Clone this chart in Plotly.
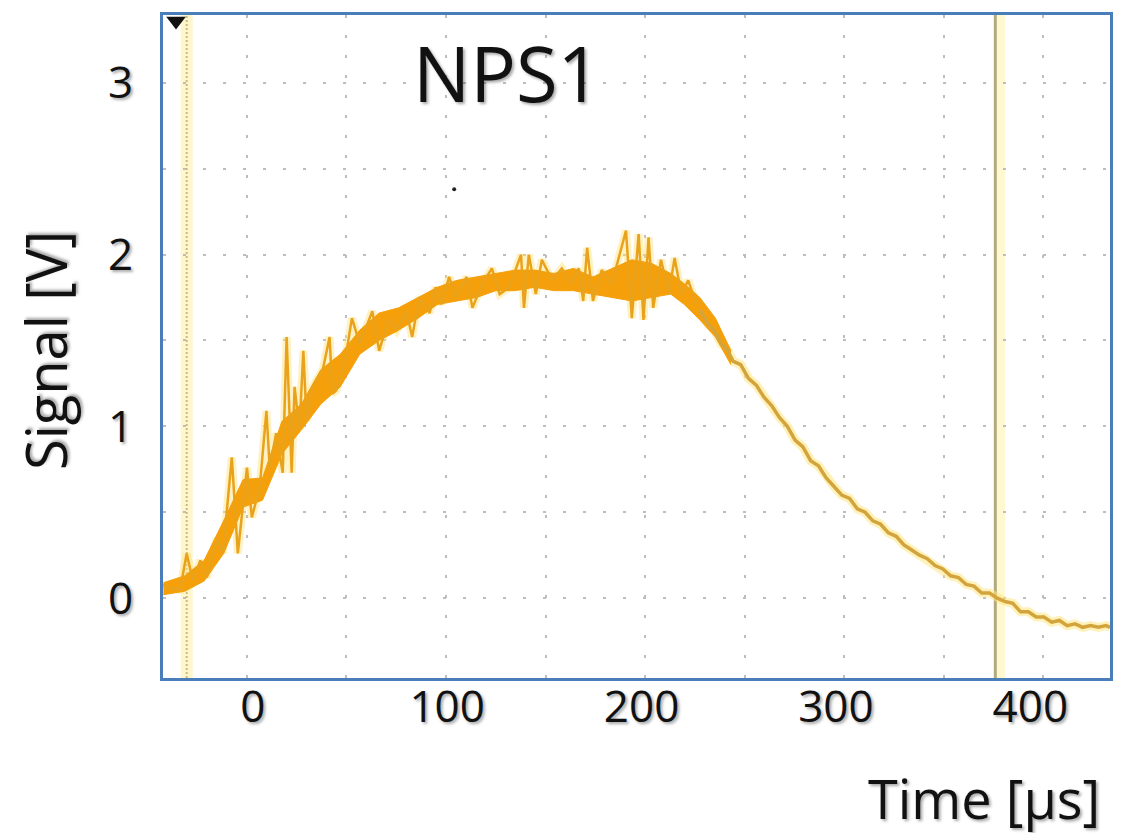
import plotly.graph_objects as go

# ---------------- data ----------------
# noisy rising / plateau part of the signal (time in µs, signal in V)
rise_t = [-46, -44, -37.4, -34, -30.8, -27, -23.6, -18.5, -15.4, -10.8, -7.7, -5, -3, -0.5, 3.6,
          7, 8.7, 12, 15.4, 17.4, 20, 21.5, 24, 26, 27.7, 30.8, 36, 39.5, 41, 43, 48, 51, 55,
          61.5, 65, 70, 74, 79, 82, 85.6, 91, 94, 97, 101, 104.6, 110, 113, 118, 123, 127,
          132, 138, 139.5, 142, 145.6, 148.7, 154, 159, 163.6, 167.7, 170, 172, 175, 179.5,
          184.6, 188, 192, 195, 198.5, 201, 203.6, 206, 210, 214, 217, 220.5, 224, 227.6, 230.8]
rise_v = [0.08, 0.06, 0.05, 0.26, 0.10, 0.22, 0.12, 0.35, 0.26, 0.82, 0.26, 0.53, 0.76, 0.47, 0.65,
          1.09, 0.76, 0.96, 0.73, 1.52, 0.73, 1.23, 0.98, 1.44, 1.03, 1.23, 1.33, 1.52, 1.19, 1.21, 1.42, 1.63, 1.48,
          1.67, 1.44, 1.63, 1.56, 1.67, 1.52, 1.75, 1.66, 1.81, 1.71, 1.87, 1.75, 1.87, 1.69, 1.83, 1.92, 1.77,
          1.81, 2.00, 1.69, 2.00, 1.77, 1.97, 1.85, 1.92, 1.83, 1.92, 1.73, 2.04, 1.73, 1.91,
          1.83, 1.97, 2.14, 1.63, 2.12, 1.62, 2.10, 1.69, 1.97, 1.77, 1.98, 1.77, 1.85, 1.73, 1.71]

# dense band of the trace (lower / upper envelope)
band_t = [-46, -35, -25, -15, -5, 5, 15, 25, 35, 45, 55, 65, 75, 85, 95, 105, 115, 125, 135, 145,
          155, 165, 175, 185, 195, 205, 215, 222, 230, 238, 246]
band_hi = [0.09, 0.13, 0.22, 0.45, 0.69, 0.70, 1.03, 1.13, 1.33, 1.42, 1.56, 1.66, 1.69, 1.75, 1.81,
           1.85, 1.87, 1.89, 1.91, 1.91, 1.89, 1.92, 1.87, 1.92, 1.97, 1.95, 1.89, 1.83, 1.75, 1.63, 1.44]
band_lo = [0.02, 0.04, 0.10, 0.26, 0.53, 0.57, 0.84, 0.98, 1.13, 1.23, 1.42, 1.50, 1.56, 1.63, 1.71,
           1.73, 1.75, 1.79, 1.79, 1.81, 1.79, 1.79, 1.77, 1.75, 1.73, 1.75, 1.77, 1.71, 1.62, 1.52, 1.36]

# decaying tail of the signal
decay_t = [230, 234, 238, 241, 244, 247, 251, 255, 259, 263, 267, 271, 275, 279, 283, 287, 291, 295,
           299, 303, 307, 311, 315, 319, 323, 327, 331, 335, 339, 343, 347, 351, 355, 359, 363, 367,
           371, 375, 379, 383, 387, 391, 395, 399, 403, 407, 411, 415, 419, 423, 427, 431, 435, 439, 441]
decay_v = [1.68, 1.60, 1.55, 1.48, 1.45, 1.38, 1.36, 1.28, 1.24, 1.17, 1.12, 1.05, 1.00, 0.92, 0.88,
           0.80, 0.77, 0.70, 0.65, 0.60, 0.58, 0.52, 0.50, 0.45, 0.43, 0.38, 0.36, 0.31, 0.28, 0.25,
           0.23, 0.19, 0.17, 0.13, 0.12, 0.08, 0.07, 0.03, 0.03, 0.00, -0.02, -0.03, -0.08, -0.08,
           -0.11, -0.11, -0.14, -0.13, -0.16, -0.15, -0.17, -0.16, -0.17, -0.16, -0.17]

cursor_times = [-34, 382]          # oscilloscope cursors (µs)
trigger_marker = (-39.5, 3.36)     # trigger arrow at top
stray_dot = (103.6, 2.38)

x_ticks = [0, 100, 200, 300, 400]
y_ticks = [0, 1, 2, 3]
x_range = [-46.2, 441]
y_range = [-0.465, 3.395]

FONT = "Open Sans"
SHADOW = "2px 2px 3px rgba(0,0,0,0.35)"
ORANGE = "#f5a00a"
GOLD = "#d4a43c"

fig = go.Figure()

# soft yellow halo
fig.add_trace(go.Scatter(x=rise_t, y=rise_v, mode="lines",
                         line=dict(color="rgba(255,225,120,0.45)", width=8), hoverinfo="skip"))
fig.add_trace(go.Scatter(x=decay_t, y=decay_v, mode="lines",
                         line=dict(color="rgba(255,230,130,0.55)", width=9), hoverinfo="skip"))
# band
fig.add_trace(go.Scatter(x=band_t, y=band_lo, mode="lines", line=dict(width=1, color=ORANGE),
                         hoverinfo="skip"))
fig.add_trace(go.Scatter(x=band_t, y=band_hi, mode="lines", line=dict(width=1, color=ORANGE),
                         fill="tonexty", fillcolor=ORANGE, hoverinfo="skip"))
# noisy trace
fig.add_trace(go.Scatter(x=rise_t, y=rise_v, mode="lines",
                         line=dict(color="#e9a21c", width=2.5)))
fig.add_trace(go.Scatter(x=decay_t, y=decay_v, mode="lines",
                         line=dict(color=GOLD, width=3.5)))
# markers
fig.add_trace(go.Scatter(x=[trigger_marker[0]], y=[trigger_marker[1]], mode="markers",
                         marker=dict(symbol="triangle-down", size=17, color="#111111"),
                         cliponaxis=False))
fig.add_trace(go.Scatter(x=[stray_dot[0]], y=[stray_dot[1]], mode="markers",
                         marker=dict(size=4, color="#222222")))

# cursors: pale band + line
fig.add_vline(x=cursor_times[0], line=dict(color="rgba(255,240,170,0.6)", width=12), layer="below")
fig.add_vline(x=cursor_times[0], line=dict(color="#c8b98a", width=2, dash="2px,2px"), layer="below")
fig.add_vline(x=cursor_times[1] + 2.5, line=dict(color="rgba(255,245,190,0.7)", width=10), layer="below")
fig.add_vline(x=cursor_times[1], line=dict(color="#b3aa7c", width=3), layer="below")

grid = dict(showgrid=True, gridcolor="#bdbdbd", gridwidth=1.5, griddash="3px,17px")

# the page body adds an 8px margin around the figure
fig.update_layout(
    width=1109, height=833,
    margin=dict(l=155, r=4, t=6, b=163),
    plot_bgcolor="white", paper_bgcolor="white",
    showlegend=False,
    font=dict(family=FONT, color="#111111"),
    xaxis=dict(range=x_range, tickvals=x_ticks, showgrid=False, zeroline=False,
               showline=True, linecolor="#4a7ebb", linewidth=3, mirror=True,
               ticks="", ticklabelstandoff=-12,
               tickfont=dict(size=44, family=FONT, shadow=SHADOW),
               minor=dict(tick0=-3, dtick=51.2, ticks="", **grid)),
    yaxis=dict(range=y_range, tickvals=y_ticks, zeroline=False,
               showline=True, linecolor="#4a7ebb", linewidth=3, mirror=True,
               ticks="outside", ticklen=18, tickcolor="rgba(0,0,0,0)",
               tickfont=dict(size=44, family=FONT, shadow=SHADOW),
               minor=dict(dtick=0.5, ticks="", **grid), **grid),
)

fig.add_annotation(text="NPS1", xref="paper", yref="paper", x=0.363, y=0.9127,
                   xanchor="center", yanchor="middle", showarrow=False,
                   font=dict(size=76, family=FONT, color="#111111", shadow=SHADOW))
fig.add_annotation(text="Time [µs]", xref="paper", yref="paper", x=0.9916, y=-0.181,
                   xanchor="right", yanchor="middle", showarrow=False,
                   font=dict(size=54, family=FONT, color="#111111", shadow=SHADOW))
fig.add_annotation(text="Signal [V]", xref="paper", yref="paper", x=-0.124, y=0.494,
                   xanchor="center", yanchor="middle", textangle=-90, showarrow=False,
                   font=dict(size=56, family=FONT, color="#111111", shadow=SHADOW))

fig.write_html("out.html")
